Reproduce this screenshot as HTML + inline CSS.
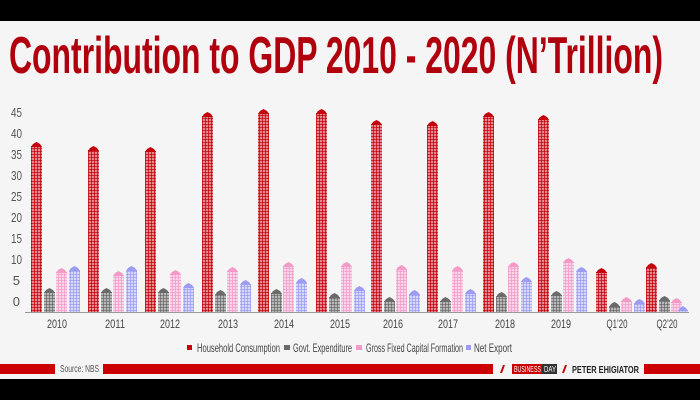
<!DOCTYPE html>
<html><head><meta charset="utf-8"><style>
html,body{margin:0;padding:0;background:#f5f5f5}
svg{display:block}
text{font-family:"Liberation Sans",sans-serif}
</style></head><body>
<svg width="700" height="400" viewBox="0 0 700 400" xmlns="http://www.w3.org/2000/svg">
<defs>
<pattern id="pR" width="3" height="3" patternUnits="userSpaceOnUse"><rect width="3" height="3" fill="#fbe8e8"/><circle cx="1.5" cy="1.5" r="1.35" fill="#c4000b"/></pattern>
<pattern id="pG" width="3" height="3" patternUnits="userSpaceOnUse"><rect width="3" height="3" fill="#eee"/><circle cx="1.5" cy="1.5" r="1.35" fill="#6a6a6a"/></pattern>
<pattern id="pP" width="3" height="3" patternUnits="userSpaceOnUse"><rect width="3" height="3" fill="#fff"/><circle cx="1.5" cy="1.5" r="1.35" fill="#f39ac8"/></pattern>
<pattern id="pB" width="3" height="3" patternUnits="userSpaceOnUse"><rect width="3" height="3" fill="#fff"/><circle cx="1.5" cy="1.5" r="1.35" fill="#9c9cf3"/></pattern>
</defs>
<rect x="0" y="0" width="700" height="21" fill="#000"/>
<text x="9" y="73" font-size="52" font-weight="bold" fill="#b0000d" textLength="654" lengthAdjust="spacingAndGlyphs">Contribution to GDP 2010 - 2020 (N’Trillion)</text>
<g font-size="13" fill="#555" text-anchor="end">
<text x="22" y="117" textLength="11" lengthAdjust="spacingAndGlyphs">45</text>
<text x="22" y="138" textLength="11" lengthAdjust="spacingAndGlyphs">40</text>
<text x="22" y="159" textLength="11" lengthAdjust="spacingAndGlyphs">35</text>
<text x="22" y="180" textLength="11" lengthAdjust="spacingAndGlyphs">30</text>
<text x="22" y="201" textLength="11" lengthAdjust="spacingAndGlyphs">25</text>
<text x="22" y="222" textLength="11" lengthAdjust="spacingAndGlyphs">20</text>
<text x="22" y="243" textLength="11" lengthAdjust="spacingAndGlyphs">15</text>
<text x="22" y="264" textLength="11" lengthAdjust="spacingAndGlyphs">10</text>
<text x="20" y="285">5</text>
<text x="20" y="306">0</text>
</g>
<g id="bars"></g>
<line x1="25" y1="312.5" x2="689" y2="312.5" stroke="#999" stroke-width="1"/>
<g font-size="12" fill="#444" text-anchor="middle">
<text x="57" y="328" textLength="20" lengthAdjust="spacingAndGlyphs">2010</text>
<text x="115" y="328" textLength="20" lengthAdjust="spacingAndGlyphs">2011</text>
<text x="170" y="328" textLength="20" lengthAdjust="spacingAndGlyphs">2012</text>
<text x="228" y="328" textLength="20" lengthAdjust="spacingAndGlyphs">2013</text>
<text x="284" y="328" textLength="20" lengthAdjust="spacingAndGlyphs">2014</text>
<text x="340" y="328" textLength="20" lengthAdjust="spacingAndGlyphs">2015</text>
<text x="393" y="328" textLength="20" lengthAdjust="spacingAndGlyphs">2016</text>
<text x="448" y="328" textLength="20" lengthAdjust="spacingAndGlyphs">2017</text>
<text x="505" y="328" textLength="20" lengthAdjust="spacingAndGlyphs">2018</text>
<text x="561" y="328" textLength="20" lengthAdjust="spacingAndGlyphs">2019</text>
<text x="617" y="328" textLength="21" lengthAdjust="spacingAndGlyphs">Q1’20</text>
<text x="667" y="328" textLength="21" lengthAdjust="spacingAndGlyphs">Q2’20</text>
</g>
<g font-size="12" fill="#444">
<rect x="187" y="345" width="5" height="5" fill="#c4000b"/><text x="197" y="352" textLength="83" lengthAdjust="spacingAndGlyphs">Household Consumption</text>
<rect x="284" y="345" width="6" height="5" fill="#6a6a6a"/><text x="293" y="352" textLength="59" lengthAdjust="spacingAndGlyphs">Govt. Expenditure</text>
<rect x="356" y="345" width="6" height="5" fill="#f39ac8"/><text x="366" y="352" textLength="97" lengthAdjust="spacingAndGlyphs">Gross Fixed Capital Formation</text>
<rect x="466" y="345" width="5" height="5" fill="#9c9cf3"/><text x="474" y="352" textLength="38" lengthAdjust="spacingAndGlyphs">Net Export</text>
</g>
<rect x="0" y="364" width="55" height="10" fill="#cc0000"/>
<text x="60" y="372" font-size="10" fill="#555" textLength="39" lengthAdjust="spacingAndGlyphs">Source: NBS</text>
<rect x="103" y="364" width="390" height="10" fill="#cc0000"/>
<polygon points="500,373 503,365 505,365 502,373" fill="#cc0000"/>
<rect x="512" y="364" width="30" height="10" fill="#cc0000"/>
<rect x="542" y="364" width="15" height="10" fill="#333"/>
<text x="514" y="372" font-size="8" fill="#fff" textLength="27" lengthAdjust="spacingAndGlyphs">BUSINESS</text>
<text x="544" y="372" font-size="8" fill="#fff" textLength="12" lengthAdjust="spacingAndGlyphs">DAY</text>
<polygon points="562,373 565,365 567,365 564,373" fill="#cc0000"/>
<text x="572" y="373" font-size="10" font-weight="bold" fill="#222" textLength="67" lengthAdjust="spacingAndGlyphs">PETER EHIGIATOR</text>
<rect x="644" y="364" width="56" height="10" fill="#cc0000"/>
<rect x="0" y="379" width="700" height="21" fill="#000"/>
</svg>
<script>
var d=[[31,142,288,268,266],[88,146,288,271,266],[145,147,288,270,283],[202,112,290,267,280],[258,109,289,262,278],[316,109,293,262,286],[371,120,297,265,290],[427,121,297,266,289],[483,112,292,262,277],[538,115,291,258,267],[596,268,302,297,299],[646,263,296,298,306]];
var pats=["pR","pG","pP","pB"],cols=["#c4000b","#6a6a6a","#f39ac8","#9c9cf3"],off=[0,13,25,38];
var s="";
d.forEach(function(g,gi){for(var i=0;i<4;i++){var x=g[0]+off[i],t=g[i+1],w=11;if(gi==11&&i==3){x=678;w=10;}
s+='<rect x="'+x+'" y="'+(t+4)+'" width="'+w+'" height="'+(312-t-4)+'" fill="url(#'+pats[i]+')"/>';
s+='<polygon points="'+x+','+(t+5)+' '+(x+2)+','+(t+2)+' '+(x+w/2)+','+t+' '+(x+w-2)+','+(t+2)+' '+(x+w)+','+(t+5)+'" fill="'+cols[i]+'"/>';}});
document.getElementById("bars").innerHTML=s;
</script>
</body></html>
